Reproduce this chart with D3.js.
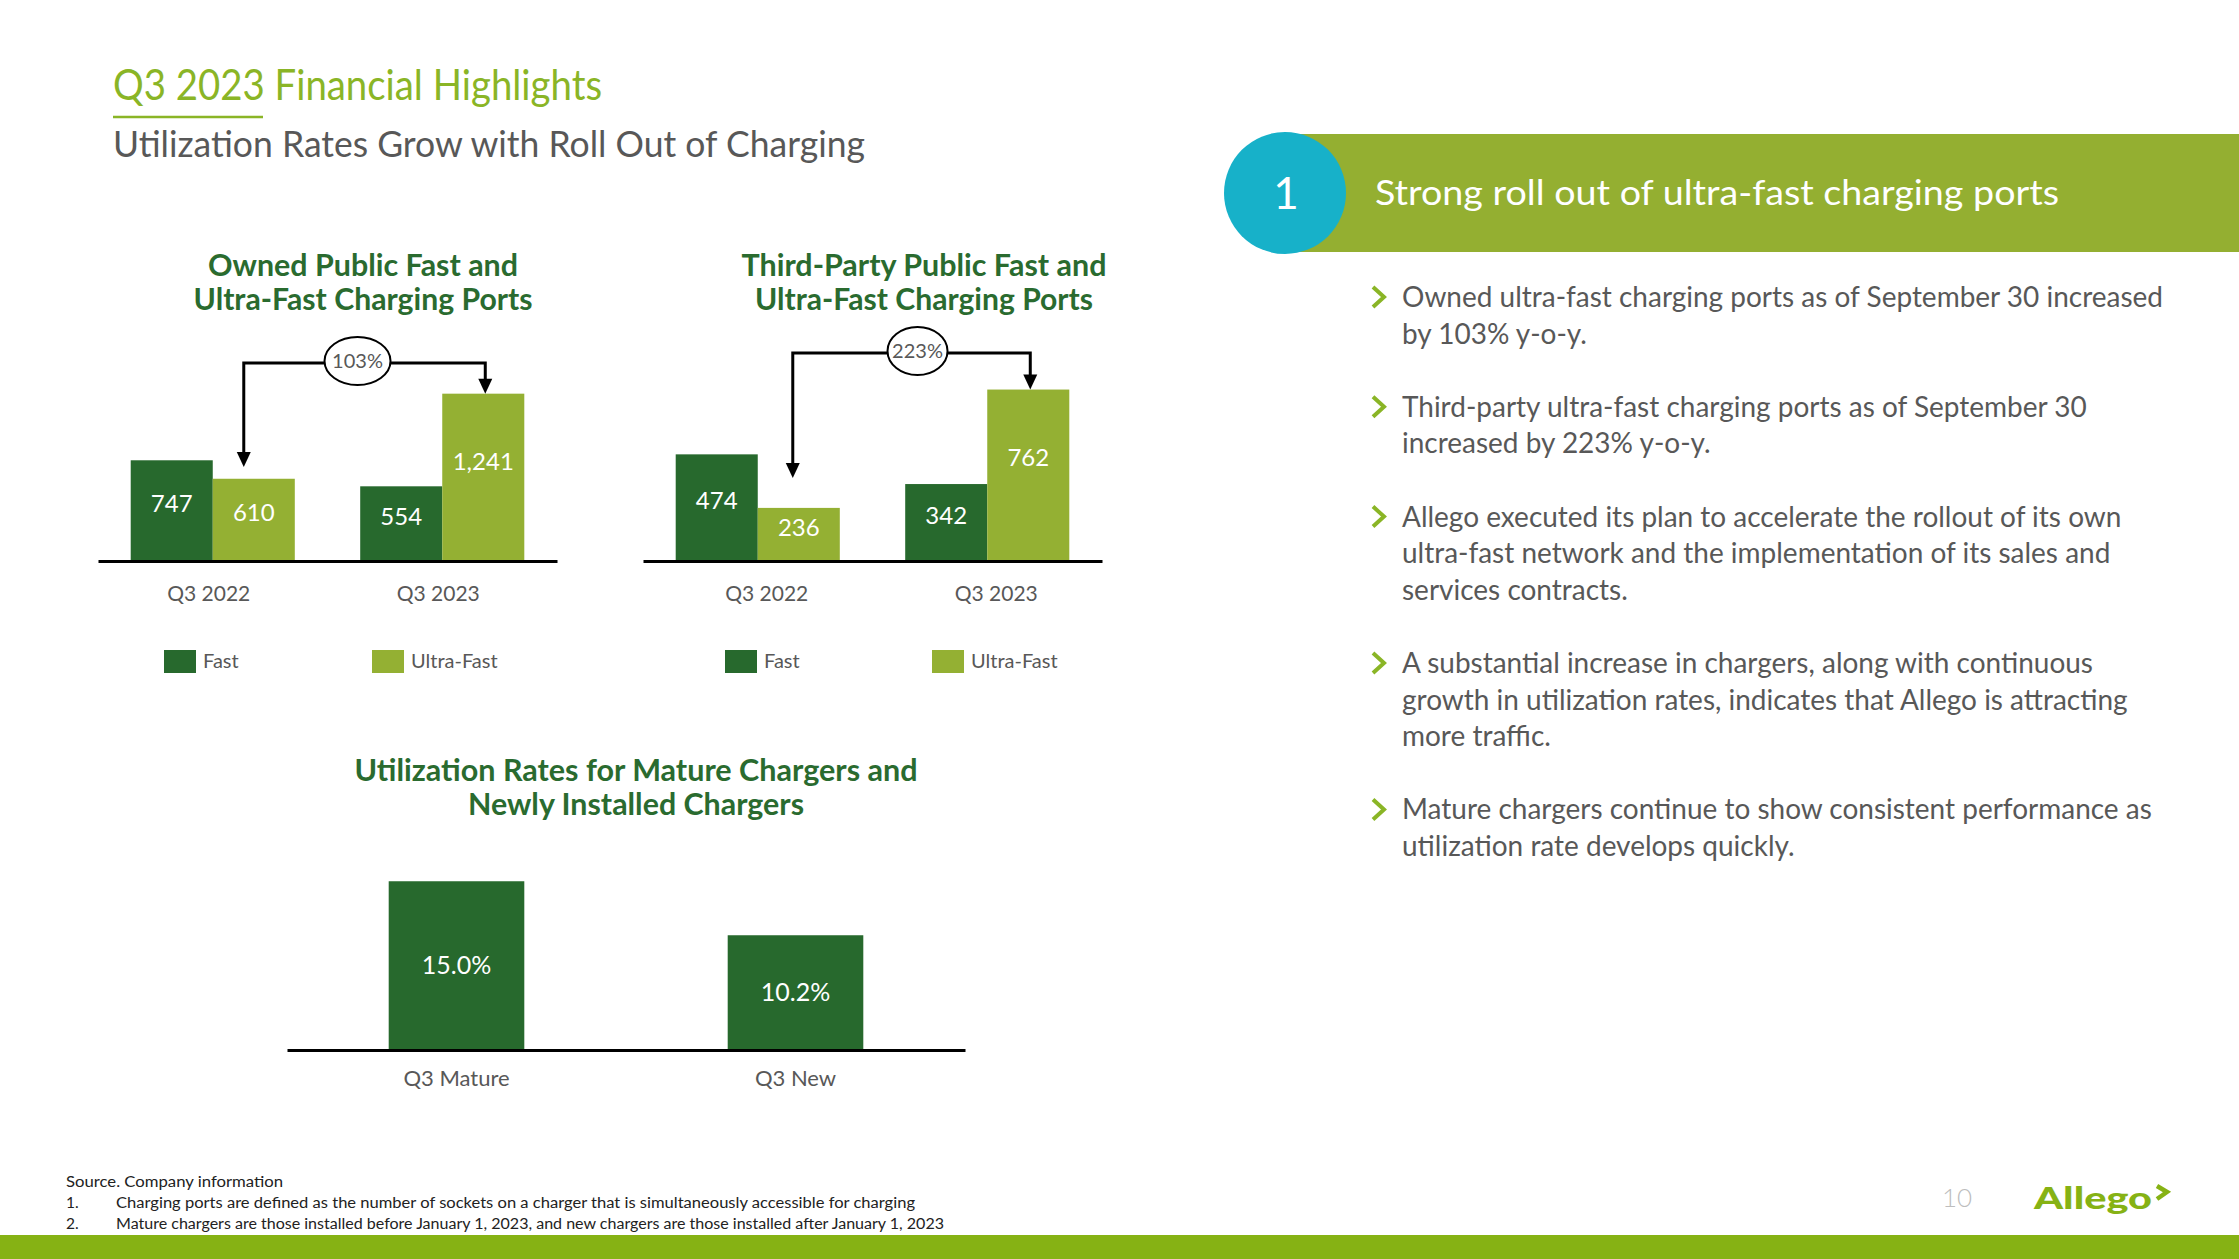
<!DOCTYPE html>
<html><head><meta charset="utf-8">
<script src="https://cdn.jsdelivr.net/npm/d3@7"></script>
<style>
body{margin:0;background:#fff}
svg{display:block}
text{font-family:Lato,"Noto Sans",sans-serif}
</style></head>
<body><svg id="c" width="2239" height="1259"></svg>
<script>
// ---------- DATA ----------
const periods = ["Q3 2022", "Q3 2023"];
const seriesNames = ["Fast", "Ultra-Fast"];
const ownedFast = [747, 554];
const ownedUltra = [610, 1241];
const ownedGrowth = "103%";
const thirdFast = [474, 342];
const thirdUltra = [236, 762];
const thirdGrowth = "223%";
const utilCategories = ["Q3 Mature", "Q3 New"];
const utilRates = [15.0, 10.2];
const pageTitle = "Q3 2023 Financial Highlights";
const pageSubtitle = "Utilization Rates Grow with Roll Out of Charging";
const bannerNumber = "1";
const bannerText = "Strong roll out of ultra-fast charging ports";
const bullets = [
  ["Owned ultra-fast charging ports as of September 30 increased", "by 103% y-o-y."],
  ["Third-party ultra-fast charging ports as of September 30", "increased by 223% y-o-y."],
  ["Allego executed its plan to accelerate the rollout of its own", "ultra-fast network and the implementation of its sales and", "services contracts."],
  ["A substantial increase in chargers, along with continuous", "growth in utilization rates, indicates that Allego is attracting", "more traffic."],
  ["Mature chargers continue to show consistent performance as", "utilization rate develops quickly."]
];
const footnotes = [
  ["", "Source. Company information"],
  ["1.", "Charging ports are defined as the number of sockets on a charger that is simultaneously accessible for charging"],
  ["2.", "Mature chargers are those installed before January 1, 2023, and new chargers are those installed after January 1, 2023"]
];
const pageNumber = "10";

// ---------- STYLE ----------
const DARK = "#27692d", LIGHT = "#94b033", TITLEGREEN = "#2a6b2f";
const ACCENT = "#8ab526", GRAY = "#585858", BAR = "#86b214";
const svg = d3.select("#c");

function fitText(sel, w) { sel.attr("textLength", w).attr("lengthAdjust", "spacingAndGlyphs"); }

// ---------- HEADER ----------
fitText(svg.append("text").attr("x", 113).attr("y", 100).attr("font-size", 42)
  .attr("fill", ACCENT).text(pageTitle), 489);
svg.append("line").attr("x1", 113).attr("x2", 263).attr("y1", 117).attr("y2", 117)
  .attr("stroke", ACCENT).attr("stroke-width", 2.5);
fitText(svg.append("text").attr("x", 113).attr("y", 157).attr("font-size", 37)
  .attr("fill", GRAY).text(pageSubtitle), 752);

// ---------- GROUPED BAR CHARTS ----------
function grouped(cfg) {
  const g = svg.append("g");
  const y = d3.scaleLinear().domain([0, cfg.yMax]).range([cfg.base, cfg.base - 180]);
  const x0 = d3.scaleBand().domain(periods).range([cfg.x0, cfg.x1]).paddingInner(0.285).paddingOuter(0.1425);
  const x1 = d3.scaleBand().domain(seriesNames).range([0, x0.bandwidth()]);
  const rows = periods.map((p, i) => ({p, vals: [cfg.fast[i], cfg.ultra[i]]}));
  const color = d3.scaleOrdinal().domain(seriesNames).range([DARK, LIGHT]);

  // title
  cfg.title.forEach((t, i) => fitText(g.append("text").attr("x", cfg.titleX).attr("y", 276 + i * 34)
    .attr("text-anchor", "middle").attr("font-size", 30).attr("font-weight", 700)
    .attr("fill", TITLEGREEN).text(t), cfg.titleW[i]));

  const grp = g.selectAll(".grp").data(rows).join("g").attr("transform", d => `translate(${x0(d.p)},0)`);
  grp.selectAll("rect").data(d => d.vals.map((v, k) => ({k: seriesNames[k], v}))).join("rect")
    .attr("x", d => x1(d.k)).attr("width", x1.bandwidth())
    .attr("y", d => y(d.v)).attr("height", d => cfg.base - y(d.v)).attr("fill", d => color(d.k));
  grp.selectAll("text.v").data(d => d.vals.map((v, k) => ({k: seriesNames[k], v}))).join("text")
    .attr("class", "v").attr("x", d => x1(d.k) + x1.bandwidth() / 2)
    .attr("y", d => (y(d.v) + cfg.base) / 2 - 7 - Math.max(0, cfg.base - y(d.v) - 150) * 0.5).attr("dy", "0.35em")
    .attr("text-anchor", "middle").attr("font-size", 24).attr("fill", "#fff")
    .text(d => d3.format(",")(d.v));

  // axis
  const ax = g.append("g").attr("transform", `translate(0,${cfg.base})`)
    .call(d3.axisBottom(x0).tickSize(0).tickSizeOuter(0));
  ax.select(".domain").attr("stroke", "#000").attr("stroke-width", 3);
  ax.selectAll(".tick text").attr("x", cfg.labelDx).attr("y", 40).attr("dy", null).attr("font-size", 21)
    .attr("fill", GRAY).attr("font-family", "Lato,sans-serif");

  // growth bracket
  const lx = x0(periods[0]) + x1("Ultra-Fast") + x1.bandwidth() / 2 + cfg.leftDx;
  const rx = x0(periods[1]) + x1("Ultra-Fast") + x1.bandwidth() / 2 + 2;
  const rTip = y(cfg.ultra[1]);
  g.append("path").attr("d", `M${lx},${cfg.leftTip - 12}V${cfg.bracketY}H${rx}V${rTip - 12}`)
    .attr("fill", "none").attr("stroke", "#000").attr("stroke-width", 3);
  [[lx, cfg.leftTip], [rx, rTip]].forEach(([ax_, ay]) =>
    g.append("path").attr("d", `M${ax_ - 7},${ay - 15}L${ax_ + 7},${ay - 15}L${ax_},${ay}Z`).attr("fill", "#000"));
  const ex = (lx + rx) / 2 + cfg.eDx;
  g.append("ellipse").attr("cx", ex).attr("cy", cfg.bracketY - 2).attr("rx", cfg.erx).attr("ry", 24)
    .attr("fill", "#fff").attr("stroke", "#000").attr("stroke-width", 2);
  g.append("text").attr("x", ex).attr("y", cfg.bracketY - 2).attr("dy", "0.35em").attr("text-anchor", "middle")
    .attr("font-size", 20).attr("fill", GRAY).text(cfg.growth);

  // legend
  seriesNames.forEach((s, i) => {
    const lx2 = cfg.legX[i];
    g.append("rect").attr("x", lx2).attr("y", 650).attr("width", 32).attr("height", 23).attr("fill", color(s));
    g.append("text").attr("x", lx2 + 39).attr("y", 668).attr("font-size", 20).attr("fill", GRAY).text(s);
  });
}

grouped({x0: 98, x1: 557, base: 561, yMax: 1335, fast: ownedFast, ultra: ownedUltra, growth: ownedGrowth,
  title: ["Owned Public Fast and", "Ultra-Fast Charging Ports"], titleX: 363, titleW: [310, 339],
  bracketY: 363, leftTip: 467, leftDx: -10, erx: 33, eDx: -7, labelDx: -4, legX: [164, 372]});
grouped({x0: 643, x1: 1102, base: 561, yMax: 800, fast: thirdFast, ultra: thirdUltra, growth: thirdGrowth,
  title: ["Third-Party Public Fast and", "Ultra-Fast Charging Ports"], titleX: 924, titleW: [365, 338],
  bracketY: 353, leftTip: 478, leftDx: -6, erx: 30, eDx: 6, labelDx: 9, legX: [725, 932]});

// ---------- UTILIZATION CHART ----------
(function () {
  const g = svg.append("g");
  const base = 1050;
  const y = d3.scaleLinear().domain([0, 16]).range([base, base - 180]);
  const x = d3.scaleBand().domain(utilCategories).range([287, 965]).paddingInner(0.6).paddingOuter(0.3);
  [["Utilization Rates for Mature Chargers and", 563], ["Newly Installed Chargers", 336]].forEach((t, i) =>
    fitText(g.append("text").attr("x", 636).attr("y", 781 + i * 34).attr("text-anchor", "middle")
      .attr("font-size", 30).attr("font-weight", 700).attr("fill", TITLEGREEN).text(t[0]), t[1]));
  const rows = utilCategories.map((c, i) => ({c, v: utilRates[i]}));
  g.selectAll("rect").data(rows).join("rect").attr("x", d => x(d.c)).attr("width", x.bandwidth())
    .attr("y", d => y(d.v)).attr("height", d => base - y(d.v)).attr("fill", DARK);
  g.selectAll("text.v").data(rows).join("text").attr("class", "v")
    .attr("x", d => x(d.c) + x.bandwidth() / 2).attr("y", d => (y(d.v) + base) / 2).attr("dy", "0.35em")
    .attr("text-anchor", "middle").attr("font-size", 25).attr("fill", "#fff")
    .text(d => d3.format(".1f")(d.v) + "%");
  const ax = g.append("g").attr("transform", `translate(0,${base})`)
    .call(d3.axisBottom(x).tickSize(0).tickSizeOuter(0));
  ax.select(".domain").attr("stroke", "#000").attr("stroke-width", 3);
  ax.selectAll(".tick text").attr("y", 36).attr("dy", null).attr("font-size", 22)
    .attr("fill", GRAY).attr("font-family", "Lato,sans-serif");
})();

// ---------- RIGHT PANEL ----------
svg.append("rect").attr("x", 1285).attr("y", 134).attr("width", 2239 - 1285).attr("height", 118).attr("fill", "#94af31");
svg.append("circle").attr("cx", 1285).attr("cy", 193).attr("r", 61).attr("fill", "#17b1c9");
svg.append("text").attr("x", 1286).attr("y", 193).attr("dy", "0.36em").attr("text-anchor", "middle")
  .attr("font-size", 44).attr("fill", "#fff").text(bannerNumber);
fitText(svg.append("text").attr("x", 1375).attr("y", 205).attr("font-size", 34).attr("fill", "#fff").text(bannerText), 684);

let idx = 0;
const bl = svg.append("g");
const B0 = 307;
bullets.forEach(lines => {
  const by = B0 + idx * 36.6;
  bl.append("path").attr("d", `M${1373},${by - 20}L${1384},${by - 10}L${1373},${by}`)
    .attr("fill", "none").attr("stroke", ACCENT).attr("stroke-width", 4);
  lines.forEach((ln, j) => {
    bl.append("text").attr("class", "bt").attr("x", 1402).attr("y", B0 + (idx + j) * 36.6)
      .attr("font-size", 28).attr("fill", GRAY).text(ln);
  });
  idx += lines.length + 1;
});
// condense body text uniformly to match the original typeface width
const first = bl.select("text.bt").node();
const sx = 761 / first.getComputedTextLength();
bl.selectAll("text.bt").each(function () {
  const w = this.getComputedTextLength();
  d3.select(this).attr("textLength", w * sx).attr("lengthAdjust", "spacingAndGlyphs");
});

// ---------- FOOTER ----------
const fy = [1187, 1208, 1229];
footnotes.forEach((f, i) => {
  if (f[0]) svg.append("text").attr("x", 66).attr("y", fy[i]).attr("font-size", 15.5).attr("fill", "#222").text(f[0]);
  const t = svg.append("text").attr("x", f[0] ? 116 : 66).attr("y", fy[i]).attr("font-size", 15.5).attr("fill", "#222").text(f[1]);
  fitText(t, [217, 799, 828][i]);
});
svg.append("rect").attr("x", 0).attr("y", 1235).attr("width", 2239).attr("height", 24).attr("fill", BAR);
svg.append("text").attr("x", 1942).attr("y", 1207).attr("font-size", 26).attr("font-weight", 300)
  .attr("fill", "#bdbdbd").text(pageNumber);
fitText(svg.append("text").attr("x", 2034).attr("y", 1209).attr("font-size", 31).attr("font-weight", 900)
  .attr("fill", BAR).text("Allego"), 118);
svg.append("path").attr("d", "M2157,1186L2167,1192L2157,1199").attr("fill", "none").attr("stroke", BAR).attr("stroke-width", 4.5);
</script></body></html>
